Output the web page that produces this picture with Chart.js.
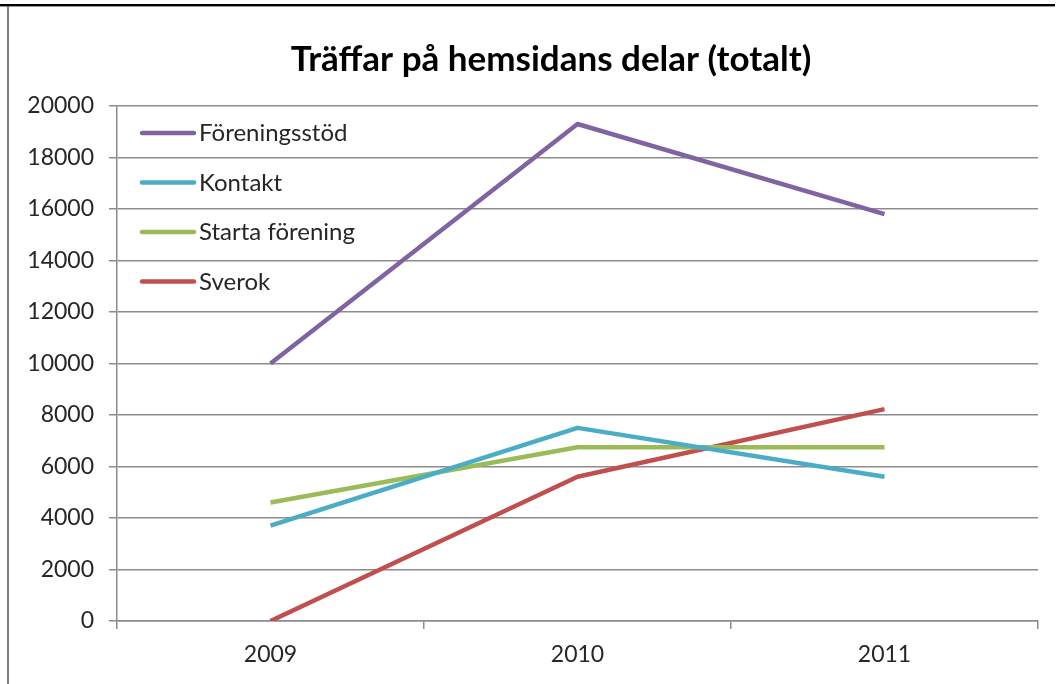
<!DOCTYPE html>
<html>
<head>
<meta charset="utf-8">
<script src="https://cdn.jsdelivr.net/npm/chart.js@4/dist/chart.umd.min.js"></script>
<style>
  html, body { margin: 0; padding: 0; background: #fff; }
  #wrap { width: 1059px; height: 684px; position: relative; }
</style>
</head>
<body>
<div id="wrap"><canvas id="c" width="1059" height="684"></canvas></div>
<script>
const categories = ['2009', '2010', '2011'];
const foreningsstod = [10000, 19300, 15800];
const kontakt = [3700, 7500, 5600];
const startaForening = [4600, 6750, 6750];
const sverok = [0, 5600, 8230];
const seriesNames = ['Föreningsstöd', 'Kontakt', 'Starta förening', 'Sverok'];
const yTicks = [0, 2000, 4000, 6000, 8000, 10000, 12000, 14000, 16000, 18000, 20000];
const titleText = 'Träffar på hemsidans delar (totalt)';

const colors = ['#8064A2', '#4BACC6', '#9BBB59', '#C0504D'];
const FONT = 'Lato, "Open Sans", sans-serif';
const TEXT = '#262626';
const GRID = '#8c8c8c';

const framePlugin = {
  id: 'frame',
  afterDraw(chart) {
    const ctx = chart.ctx;
    ctx.save();
    ctx.fillStyle = '#000';
    ctx.fillRect(0, 4, 1055, 2);
    ctx.fillStyle = '#9a9a9a';
    ctx.fillRect(0, 6, 1055, 1);
    ctx.fillStyle = '#7f7f7f';
    ctx.fillRect(7, 6, 2, 684);
    // title
    ctx.fillStyle = '#000';
    ctx.font = 'bold 35px ' + FONT;
    ctx.textAlign = 'center';
    ctx.textBaseline = 'alphabetic';
    ctx.fillText(titleText, 551, 71);
    ctx.restore();
  }
};

const legendPlugin = {
  id: 'innerLegend',
  afterDatasetsDraw(chart) {
    const ctx = chart.ctx;
    const x0 = chart.chartArea.left + 24;
    const y0 = chart.chartArea.top + 27;
    const gap = 49.5;
    ctx.save();
    chart.data.datasets.forEach((ds, i) => {
      const y = y0 + i * gap;
      ctx.strokeStyle = ds.borderColor;
      ctx.lineWidth = 4.5;
      ctx.lineCap = 'round';
      ctx.beginPath();
      ctx.moveTo(x0 + 1, y);
      ctx.lineTo(x0 + 53, y);
      ctx.stroke();
      ctx.fillStyle = TEXT;
      ctx.font = '24px ' + FONT;
      ctx.textBaseline = 'alphabetic';
      ctx.textAlign = 'left';
      ctx.fillText(ds.label, x0 + 58, y + 8);
    });
    ctx.restore();
  }
};

const seriesValues = [foreningsstod, kontakt, startaForening, sverok];

new Chart(document.getElementById('c'), {
  type: 'line',
  data: {
    labels: categories,
    datasets: seriesNames.map((name, i) => ({
      label: name,
      data: seriesValues[i],
      borderColor: colors[i],
      backgroundColor: colors[i],
      borderWidth: 4.5,
      pointRadius: 0,
      pointHoverRadius: 0,
      tension: 0,
      borderJoinStyle: 'round',
      borderCapStyle: 'butt'
    }))
  },
  options: {
    responsive: false,
    animation: false,
    devicePixelRatio: 1,
    layout: { padding: { left: 0, right: 21, top: 106, bottom: 0 } },
    plugins: {
      legend: { display: false },
      tooltip: { enabled: false },
      title: { display: false }
    },
    scales: {
      x: {
        type: 'category',
        offset: true,
        grid: {
          offset: true,
          drawOnChartArea: false,
          drawTicks: true,
          tickLength: 8,
          color: GRID,
          lineWidth: 1.5
        },
        border: { display: true, color: GRID, width: 1.5 },
        ticks: { color: TEXT, font: { family: FONT, size: 23 }, padding: 12, maxRotation: 0 },
        afterFit(scale) { scale.height = 63; }
      },
      y: {
        min: 0,
        max: 20000,
        afterBuildTicks(scale) { scale.ticks = yTicks.map(v => ({ value: v })); },
        grid: { color: GRID, lineWidth: 1.5, tickLength: 8, drawTicks: true },
        border: { display: true, color: GRID, width: 1.5 },
        ticks: {
          color: TEXT,
          font: { family: FONT, size: 23 },
          padding: 15,
          callback: (v) => String(v)
        },
        afterFit(scale) { scale.width = 117; }
      }
    }
  },
  plugins: [framePlugin, legendPlugin]
});
</script>
</body>
</html>
